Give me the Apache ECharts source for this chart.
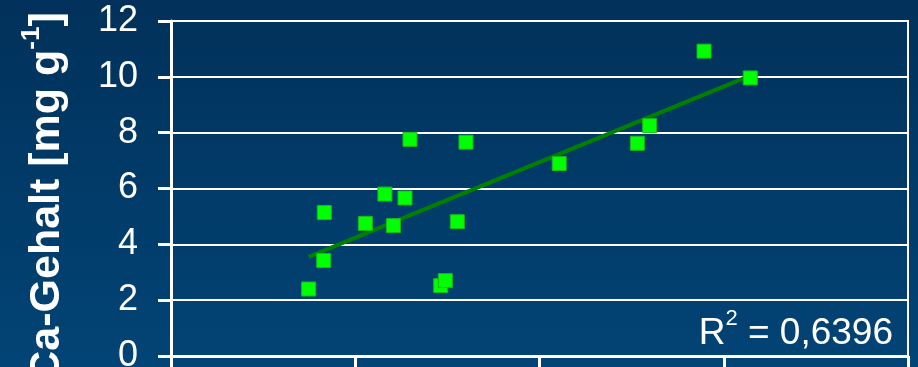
<!DOCTYPE html>
<html>
<head>
<meta charset="utf-8">
<script src="https://cdn.jsdelivr.net/npm/echarts@6/dist/echarts.min.js"></script>
<style>
  html, body { margin: 0; padding: 0; background: #003a68; }
  #chart { width: 918px; height: 367px; }
</style>
</head>
<body>
<div id="chart"></div>
<script>
// Measured samples: x position (axis units) and calcium content [mg/g]
const sampleX = [7.47, 8.29, 8.32, 10.55, 11.61, 12.07, 12.70, 12.97, 14.64, 14.89, 15.54, 16.01, 21.07, 25.31, 25.98, 28.93, 31.44];
const caContent = [2.40, 3.42, 5.14, 4.75, 5.80, 4.67, 5.66, 7.76, 2.52, 2.70, 4.81, 7.66, 6.89, 7.62, 8.25, 10.92, 9.96];

// Linear trend line end points
const trendX = [7.47, 31.44];
const trendY = [3.55, 10.04];

// Axis tick values
const yTicks = [0, 2, 4, 6, 8, 10, 12];
const xTicks = [0, 10, 20, 30, 40];

const rSquaredText = '0,6396';

const font = '"Liberation Sans", Arial, sans-serif';

const chart = echarts.init(document.getElementById('chart'), null, { renderer: 'canvas' });

chart.setOption({
  animation: false,
  backgroundColor: {
    type: 'linear', x: 0, y: 0, x2: 0, y2: 1,
    colorStops: [
      { offset: 0, color: '#01315a' },
      { offset: 1, color: '#024476' }
    ]
  },
  grid: {
    left: 171, right: 10, top: 21, bottom: 11,
    outerBoundsMode: 'none',
    containLabel: false,
    show: true, borderColor: '#ffffff', borderWidth: 2,
    backgroundColor: 'transparent'
  },
  xAxis: {
    type: 'value',
    min: xTicks[0], max: xTicks[xTicks.length - 1], interval: xTicks[1] - xTicks[0],
    axisLine: { show: true, lineStyle: { color: '#ffffff', width: 3 } },
    axisTick: { show: true, inside: false, length: 14, lineStyle: { color: '#ffffff', width: 3 } },
    axisLabel: { show: false },
    splitLine: { show: false }
  },
  yAxis: {
    type: 'value',
    min: yTicks[0], max: yTicks[yTicks.length - 1], interval: yTicks[1] - yTicks[0],
    axisLine: { show: true, lineStyle: { color: '#ffffff', width: 3 } },
    axisTick: { show: true, inside: false, length: 13, lineStyle: { color: '#ffffff', width: 3 } },
    axisLabel: { color: '#ffffff', fontSize: 36, fontFamily: font, margin: 33 },
    splitLine: { show: true, lineStyle: { color: '#ffffff', width: 2 } }
  },
  series: [
    {
      type: 'line',
      data: trendX.map((x, i) => [x, trendY[i]]),
      showSymbol: false,
      symbol: 'none',
      lineStyle: { color: '#008000', width: 4 },
      z: 2
    },
    {
      type: 'scatter',
      data: sampleX.map((x, i) => [x, caContent[i]]),
      symbol: 'rect',
      symbolSize: 14,
      itemStyle: { color: '#00ff00', borderColor: '#1bb81b', borderWidth: 1, opacity: 1 },
      z: 3
    }
  ],
  graphic: [
    {
      type: 'text',
      x: 44, y: 197,
      rotation: Math.PI / 2,
      style: {
        text: '{a|Ca-Gehalt [mg g}{s|-1}{a|]}',
        align: 'center',
        verticalAlign: 'middle',
        fill: '#ffffff',
        rich: {
          a: { fontSize: 43, fontWeight: 'bold', fontFamily: font, fill: '#ffffff', lineHeight: 50, verticalAlign: 'bottom' },
          s: { fontSize: 26, fontWeight: 'bold', fontFamily: font, fill: '#ffffff', lineHeight: 50, verticalAlign: 'top' }
        }
      }
    },
    {
      type: 'text',
      right: 25, top: 308,
      style: {
        text: '{a|R}{s|2}{a| = ' + rSquaredText + '}',
        fill: '#ffffff',
        rich: {
          a: { fontSize: 37, fontFamily: font, fill: '#ffffff', lineHeight: 44, verticalAlign: 'bottom' },
          s: { fontSize: 22, fontFamily: font, fill: '#ffffff', lineHeight: 44, verticalAlign: 'top' }
        }
      }
    }
  ]
});
</script>
</body>
</html>
